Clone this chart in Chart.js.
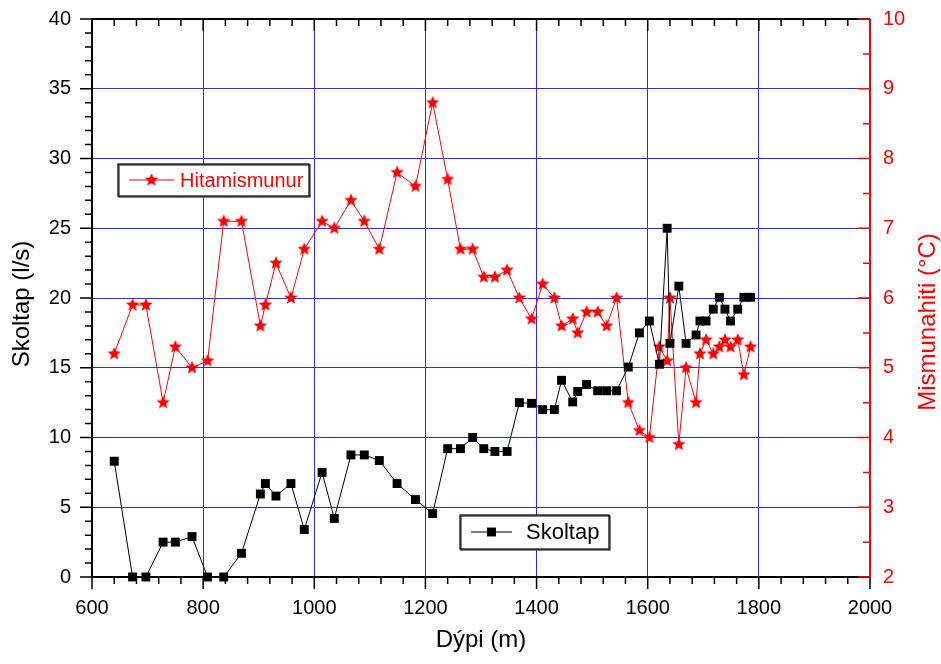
<!DOCTYPE html>
<html lang="is">
<head>
<meta charset="UTF-8">
<title>Skoltap og hitamismunur</title>
<script src="https://cdn.jsdelivr.net/npm/chart.js@4.4.1/dist/chart.umd.min.js"></script>
<style>
  html, body { margin: 0; padding: 0; background: #fff; }
</style>
</head>
<body>
<canvas id="skoltapChart" width="941" height="664"></canvas>
<script>
// dýpi (m)
const depth = [640, 673, 697, 728, 750, 780, 808, 837, 869, 903,
               912, 931, 958, 982, 1014, 1036, 1066, 1090, 1117, 1149,
               1182, 1213, 1240, 1263, 1285, 1305, 1325, 1347, 1369, 1391,
               1411, 1432, 1445, 1465, 1474, 1490, 1510, 1526, 1544, 1565,
               1585, 1603, 1621, 1635, 1640, 1656, 1669, 1687, 1694, 1705,
               1718, 1729, 1739, 1749, 1762, 1773, 1785];
// skoltap (l/s)
const flow = [8.3, 0, 0, 2.5, 2.5, 2.9, 0, 0, 1.7, 5.95,
              6.7, 5.8, 6.7, 3.4, 7.5, 4.2, 8.75, 8.75, 8.35, 6.7,
              5.55, 4.55, 9.2, 9.2, 10.0, 9.2, 9.0, 9.0, 12.5, 12.45,
              12.0, 12.0, 14.1, 12.55, 13.3, 13.8, 13.35, 13.35, 13.35, 15.05,
              17.5, 18.35, 15.25, 25.0, 16.75, 20.85, 16.75, 17.35, 18.35, 18.35,
              19.2, 20.05, 19.2, 18.35, 19.2, 20.05, 20.05];
// hitamismunur (°C)
const tempDiff = [5.2, 5.9, 5.9, 4.5, 5.3, 5.0, 5.1, 7.1, 7.1, 5.6,
                  5.9, 6.5, 6.0, 6.7, 7.1, 7.0, 7.4, 7.1, 6.7, 7.8,
                  7.6, 8.8, 7.7, 6.7, 6.7, 6.3, 6.3, 6.4, 6.0, 5.7,
                  6.2, 6.0, 5.6, 5.7, 5.5, 5.8, 5.8, 5.6, 6.0, 4.5,
                  4.1, 4.0, 5.3, 5.1, 6.0, 3.9, 5.0, 4.5, 5.2, 5.4,
                  5.2, 5.3, 5.4, 5.3, 5.4, 4.9, 5.3];

const FONT = '"Liberation Sans", Arial, sans-serif';
const RED = '#ff0000';
const GRID = '#2a2aff';

function makeStar(r, color) {
    const c = document.createElement('canvas');
    const s = Math.ceil(r * 2 + 2);
    c.width = s; c.height = s;
    const g = c.getContext('2d');
    g.fillStyle = color;
    g.beginPath();
    for (let i = 0; i < 10; i++) {
        const rad = i % 2 ? r * 0.45 : r;
        const ang = -Math.PI / 2 + i * Math.PI / 5;
        g.lineTo(s / 2 + rad * Math.cos(ang), s / 2 + rad * Math.sin(ang));
    }
    g.closePath();
    g.fill();
    return c;
}
const star = makeStar(7, RED);

// axis frame with major/minor ticks, drawn under the points
const axisFrame = {
    id: 'axisFrame',
    beforeDatasetsDraw(chart) {
        const { ctx, chartArea: a, scales: { x, y, y2 } } = chart;
        ctx.save();
        ctx.lineWidth = 1.5;
        ctx.strokeStyle = '#000';
        ctx.beginPath();
        for (let v = 600; v <= 2000; v += 40) {
            const px = x.getPixelForValue(v);
            const len = v % 200 === 0 ? 12 : 7;
            ctx.moveTo(px, a.bottom); ctx.lineTo(px, a.bottom + len);
            ctx.moveTo(px, a.top); ctx.lineTo(px, a.top + len);
        }
        for (let v = 0; v <= 40; v += 1) {
            const py = y.getPixelForValue(v);
            const len = v % 5 === 0 ? 12 : 7;
            ctx.moveTo(a.left, py); ctx.lineTo(a.left - len, py);
        }
        ctx.stroke();
        ctx.lineWidth = 2;
        ctx.beginPath();
        ctx.moveTo(a.left, a.top); ctx.lineTo(a.right, a.top);
        ctx.moveTo(a.left, a.top); ctx.lineTo(a.left, a.bottom);
        ctx.moveTo(a.left, a.bottom); ctx.lineTo(a.right, a.bottom);
        ctx.stroke();

        ctx.strokeStyle = RED;
        ctx.lineWidth = 1.5;
        ctx.beginPath();
        for (let v = 2; v <= 10; v += 0.5) {
            const py = y2.getPixelForValue(v);
            const len = v % 1 === 0 ? 12 : 7;
            ctx.moveTo(a.right, py); ctx.lineTo(a.right - len, py);
        }
        ctx.stroke();
        ctx.lineWidth = 2;
        ctx.beginPath();
        ctx.moveTo(a.right, a.top); ctx.lineTo(a.right, a.bottom);
        ctx.stroke();

        // axis titles
        ctx.font = '24px ' + FONT;
        ctx.textAlign = 'center';
        ctx.textBaseline = 'middle';
        ctx.fillStyle = '#000';
        ctx.fillText('Dýpi (m)', (a.left + a.right) / 2, 640);
        ctx.save();
        ctx.translate(22, 304);
        ctx.rotate(-Math.PI / 2);
        ctx.fillText('Skoltap (l/s)', 0, 0);
        ctx.restore();
        ctx.save();
        ctx.fillStyle = RED;
        ctx.translate(928, 322);
        ctx.rotate(-Math.PI / 2);
        ctx.fillText('Mismunahiti (°C)', 0, 0);
        ctx.restore();
        ctx.restore();
    }
};

// the two boxed legends
function drawLegend(ctx, box, ds, label, color) {
    ctx.save();
    ctx.fillStyle = '#fff';
    ctx.fillRect(box.x, box.y, box.w, box.h);
    ctx.strokeStyle = '#555';
    ctx.lineWidth = 1.5;
    ctx.strokeRect(box.x + 1, box.y + 1, box.w, box.h);
    ctx.strokeStyle = '#000';
    ctx.lineWidth = 1.2;
    ctx.strokeRect(box.x, box.y, box.w, box.h);
    const cy = box.y + box.h / 2;
    ctx.strokeStyle = ds.borderColor;
    ctx.lineWidth = 1;
    ctx.beginPath();
    ctx.moveTo(box.x + 11, cy); ctx.lineTo(box.x + box.line, cy);
    ctx.stroke();
    ctx.fillStyle = ds.backgroundColor;
    Chart.helpers.drawPoint(ctx, {
        pointStyle: ds.pointStyle, radius: ds.pointRadius, rotation: 0, borderWidth: 0
    }, box.x + (11 + box.line) / 2, cy);
    ctx.fillStyle = color;
    ctx.font = box.font + 'px ' + FONT;
    ctx.textAlign = 'left';
    ctx.textBaseline = 'middle';
    ctx.fillText(label, box.x + box.text, cy + 1);
    ctx.restore();
}

const legendBoxes = {
    id: 'legendBoxes',
    afterDraw(chart) {
        const ctx = chart.ctx;
        const sets = chart.data.datasets;
        drawLegend(ctx, { x: 118, y: 164, w: 191, h: 32, line: 56, text: 62, font: 20 },
                   sets[1], 'Hitamismunur', RED);
        drawLegend(ctx, { x: 460, y: 515, w: 149, h: 34, line: 52, text: 66, font: 22 },
                   sets[0], 'Skoltap', '#000');
    }
};

const ctx = document.getElementById('skoltapChart').getContext('2d');
new Chart(ctx, {
    type: 'line',
    data: {
        datasets: [{
            label: 'Skoltap',
            data: depth.map((d, i) => ({ x: d, y: flow[i] })),
            yAxisID: 'y',
            borderColor: '#000',
            backgroundColor: '#000',
            borderWidth: 1,
            pointStyle: 'rect',
            pointRadius: 6.3,
            pointBorderWidth: 0,
            tension: 0,
            clip: false
        }, {
            label: 'Hitamismunur',
            data: depth.map((d, i) => ({ x: d, y: tempDiff[i] })),
            yAxisID: 'y2',
            borderColor: RED,
            backgroundColor: RED,
            borderWidth: 1,
            pointStyle: star,
            pointRadius: 7,
            tension: 0,
            clip: false
        }]
    },
    options: {
        responsive: false,
        animation: false,
        devicePixelRatio: 1,
        layout: { padding: { top: 19, left: 0, right: 0, bottom: 0 } },
        plugins: { legend: { display: false }, tooltip: { enabled: false } },
        scales: {
            x: {
                type: 'linear',
                min: 600, max: 2000,
                afterFit(s) { s.height = 87; },
                border: { display: false },
                grid: {
                    drawTicks: false,
                    color: GRID,
                    lineWidth: 1
                },
                ticks: {
                    stepSize: 200,
                    autoSkip: false,
                    maxRotation: 0,
                    padding: 19,
                    color: '#000',
                    font: { family: FONT, size: 20 },
                    callback: v => String(v)
                }
            },
            y: {
                position: 'left',
                min: 0, max: 40,
                afterFit(s) { s.width = 92; },
                border: { display: false },
                grid: {
                    drawTicks: true,
                    tickLength: 21,
                    tickColor: 'rgba(0,0,0,0)',
                    color: GRID,
                    lineWidth: 1
                },
                ticks: {
                    stepSize: 5,
                    padding: 0,
                    color: '#000',
                    font: { family: FONT, size: 20 },
                    callback: v => String(v)
                }
            },
            y2: {
                position: 'right',
                min: 2, max: 10,
                afterFit(s) { s.width = 71; },
                border: { display: false },
                grid: {
                    drawOnChartArea: false,
                    drawTicks: true,
                    tickLength: 13,
                    tickColor: 'rgba(0,0,0,0)'
                },
                ticks: {
                    stepSize: 1,
                    padding: 0,
                    color: RED,
                    font: { family: FONT, size: 20 },
                    callback: v => String(v)
                }
            }
        }
    },
    plugins: [axisFrame, legendBoxes]
});
</script>
</body>
</html>
